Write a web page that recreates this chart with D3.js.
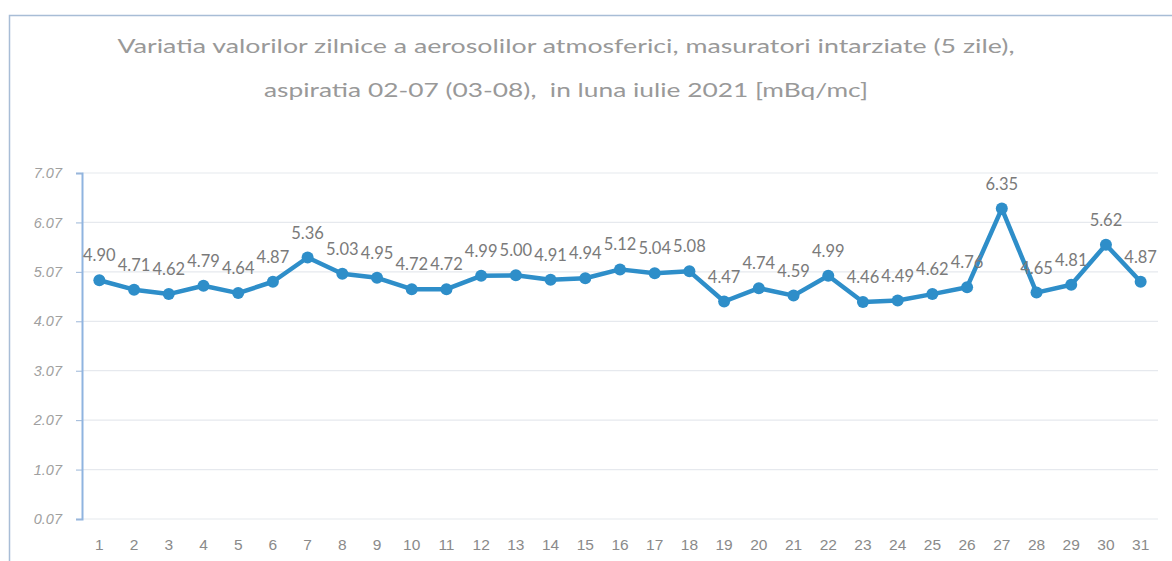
<!DOCTYPE html>
<html>
<head>
<meta charset="utf-8">
<script src="https://cdn.jsdelivr.net/npm/d3@7"></script>
<style>
  body { margin: 0; background: #fff; }
  svg { display: block; font-family: Lato, "Open Sans", sans-serif; }
</style>
</head>
<body>
<svg id="chart" width="1172" height="561"></svg>
<script>
// days of July 2021 and measured values [mBq/mc]
var days = d3.range(1, 32).map(String);
var values = [4.90, 4.71, 4.62, 4.79, 4.64, 4.87, 5.36, 5.03, 4.95, 4.72,
              4.72, 4.99, 5.00, 4.91, 4.94, 5.12, 5.04, 5.08, 4.47, 4.74,
              4.59, 4.99, 4.46, 4.49, 4.62, 4.76, 6.35, 4.65, 4.81, 5.62, 4.87];
var yTicks = [0.07, 1.07, 2.07, 3.07, 4.07, 5.07, 6.07, 7.07];
var titleLines = [
    'Variatia valorilor zilnice a aerosolilor atmosferici, masuratori intarziate (5 zile),',
    'aspiratia 02-07 (03-08),  in luna iulie 2021 [mBq/mc]'
];

var svg = d3.select('#chart');
var margin = { top: 173, right: 14, bottom: 42, left: 82 },
    width = 1172 - margin.left - margin.right,
    height = 561 - margin.top - margin.bottom;

// chart frame (scanned border)
svg.append('path')
    .attr('d', 'M9.5,561 L9.5,15.5 L1172,15.5')
    .attr('fill', 'none')
    .attr('stroke', '#a8bdd6')
    .attr('stroke-width', 1.5);

// title, stretched to the width it has in the scan
var titleWidths = [897, 604];
svg.append('g')
    .selectAll('text')
    .data(titleLines)
    .join('text')
        .attr('x', 566)
        .attr('y', (d, i) => 53 + i * 44)
        .attr('text-anchor', 'middle')
        .attr('fill', '#999')
        .attr('font-size', '18.5px')
        .attr('textLength', (d, i) => titleWidths[i])
        .attr('lengthAdjust', 'spacingAndGlyphs')
        .style('white-space', 'pre')
        .text(d => d);

var chart = svg.append('g')
    .attr('transform', 'translate(' + margin.left + ',' + margin.top + ')');

var x = d3.scaleBand().domain(days).range([0, width]);
var y = d3.scaleLinear().domain([0.07, 7.07]).range([height, 0]);

// gridlines
chart.append('g')
    .selectAll('line')
    .data(yTicks)
    .join('line')
        .attr('x1', 0)
        .attr('x2', width)
        .attr('y1', d => y(d))
        .attr('y2', d => y(d))
        .attr('stroke', '#e6e9ee')
        .attr('stroke-width', 1.2);

// y axis
var yAxis = chart.append('g')
    .call(d3.axisLeft(y).tickValues(yTicks).tickFormat(d3.format('.2f')).tickSize(6).tickPadding(14));
yAxis.select('.domain').attr('stroke', '#8fb4e0').attr('stroke-width', 2);
yAxis.selectAll('.tick line').attr('stroke', '#9bb6d8');
yAxis.selectAll('text')
    .attr('fill', '#a0a0a0')
    .attr('font-size', '14.5px')
    .attr('font-style', 'italic');

// x axis labels
var xAxis = chart.append('g')
    .attr('transform', 'translate(0,' + height + ')')
    .call(d3.axisBottom(x).tickSize(0).tickPadding(20));
xAxis.select('.domain').remove();
xAxis.selectAll('text')
    .attr('fill', '#8a8a8a')
    .attr('font-size', '15.5px');

// line
var line = d3.line()
    .x((d, i) => x(days[i]) + x.bandwidth() / 2)
    .y(d => y(d));

chart.append('path')
    .datum(values)
    .attr('d', line)
    .attr('fill', 'none')
    .attr('stroke', '#2e8ec9')
    .attr('stroke-width', 4.5)
    .attr('stroke-linejoin', 'round');

chart.append('g')
    .selectAll('circle')
    .data(values)
    .join('circle')
        .attr('cx', (d, i) => x(days[i]) + x.bandwidth() / 2)
        .attr('cy', d => y(d))
        .attr('r', 6)
        .attr('fill', '#2e8ec9');

// data labels
chart.append('g')
    .selectAll('text')
    .data(values)
    .join('text')
        .attr('x', (d, i) => x(days[i]) + x.bandwidth() / 2)
        .attr('y', d => y(d) - 19)
        .attr('text-anchor', 'middle')
        .attr('fill', '#7a7a7a')
        .attr('font-size', '16.5px')
        .text(d => d3.format('.2f')(d));
</script>
</body>
</html>
